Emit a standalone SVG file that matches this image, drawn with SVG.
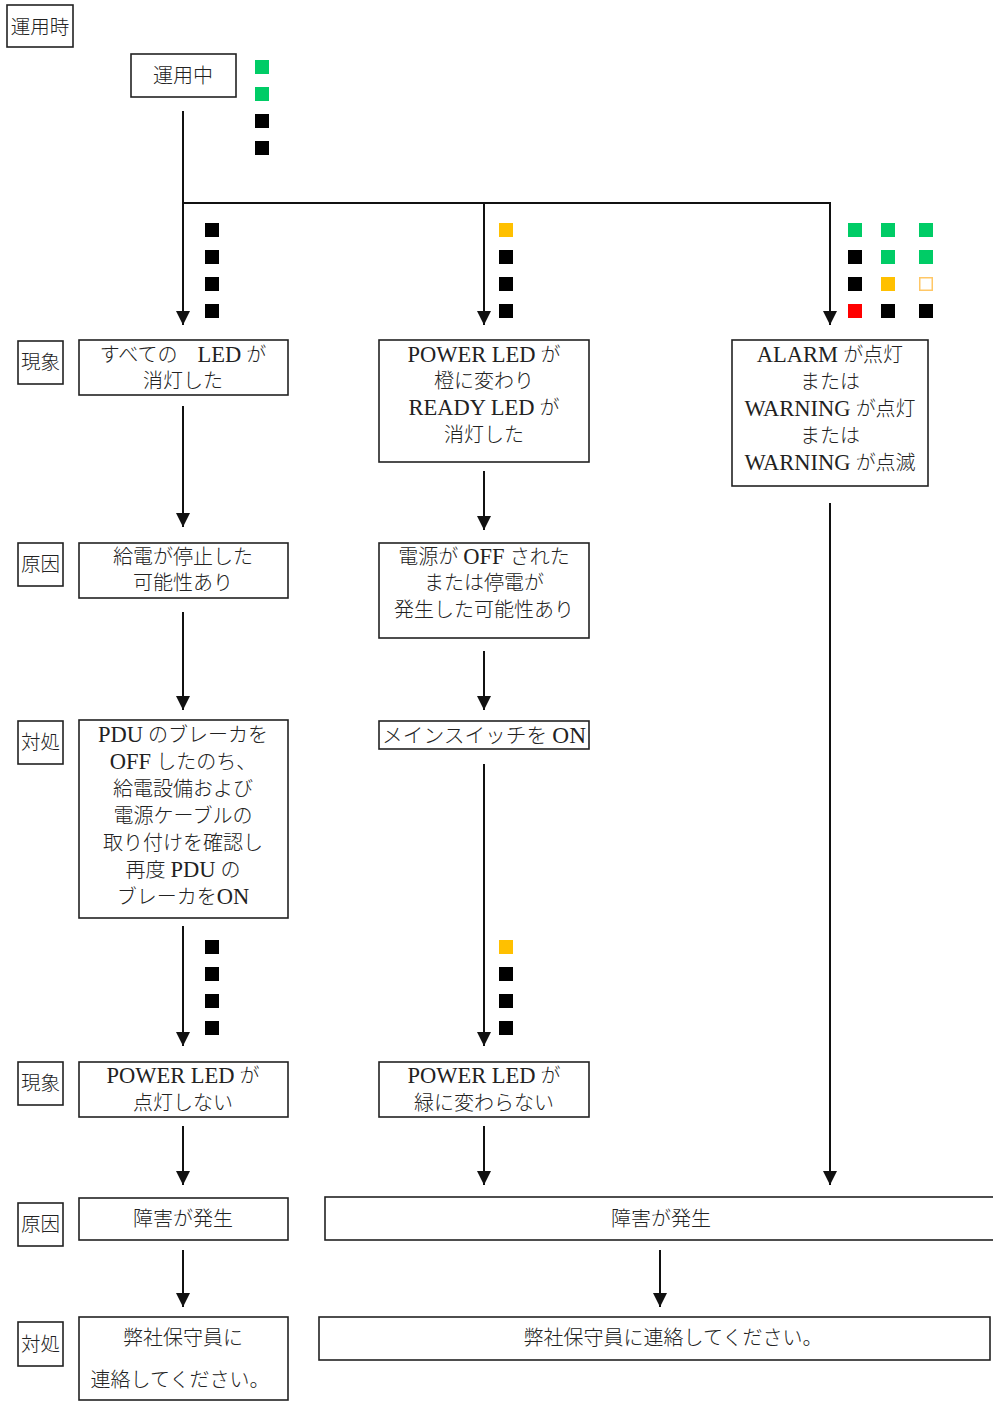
<svg xmlns="http://www.w3.org/2000/svg" width="993" height="1405" viewBox="0 0 993 1405">
<style>
text{font-family:"Liberation Serif","Noto Sans CJK JP",serif;font-size:20px;fill:#222;text-anchor:middle;font-weight:300}
.L{font-size:22.5px}
.lab{font-size:19.5px}
.box{fill:#fff;stroke:#222;stroke-width:1.6}
.c{fill:none;stroke:#111;stroke-width:2}
.g{fill:#00CC66}.k{fill:#000}.o{fill:#FFC000}.r{fill:#FF0000}.h{fill:#fff;stroke:#FFC766;stroke-width:1.5}
</style>
<defs>
<marker id="ah" viewBox="0 0 14 14" refX="14" refY="7" markerWidth="14" markerHeight="14" markerUnits="userSpaceOnUse" orient="auto">
<path d="M0,0 L14,7 L0,14 z" fill="#111"/>
</marker>
</defs>

<g id="connectors">
<path class="c" d="M183,111 V325" marker-end="url(#ah)"/>
<path class="c" d="M183,203 H830 V325" marker-end="url(#ah)"/>
<path class="c" d="M484,203 V325" marker-end="url(#ah)"/>
<path class="c" d="M183,406 V527" marker-end="url(#ah)"/>
<path class="c" d="M183,612 V710" marker-end="url(#ah)"/>
<path class="c" d="M183,926 V1046" marker-end="url(#ah)"/>
<path class="c" d="M183,1126 V1185" marker-end="url(#ah)"/>
<path class="c" d="M183,1250 V1307" marker-end="url(#ah)"/>
<path class="c" d="M484,471 V530" marker-end="url(#ah)"/>
<path class="c" d="M484,651 V710" marker-end="url(#ah)"/>
<path class="c" d="M484,764 V1046" marker-end="url(#ah)"/>
<path class="c" d="M484,1126 V1185" marker-end="url(#ah)"/>
<path class="c" d="M830,503 V1185" marker-end="url(#ah)"/>
<path class="c" d="M660,1250 V1307" marker-end="url(#ah)"/>
</g>

<g id="leds">
<rect class="g" x="255" y="60" width="14" height="14"/>
<rect class="g" x="255" y="87" width="14" height="14"/>
<rect class="k" x="255" y="114" width="14" height="14"/>
<rect class="k" x="255" y="141" width="14" height="14"/>

<rect class="k" x="205" y="223" width="14" height="14"/>
<rect class="k" x="205" y="250" width="14" height="14"/>
<rect class="k" x="205" y="277" width="14" height="14"/>
<rect class="k" x="205" y="304" width="14" height="14"/>

<rect class="o" x="499" y="223" width="14" height="14"/>
<rect class="k" x="499" y="250" width="14" height="14"/>
<rect class="k" x="499" y="277" width="14" height="14"/>
<rect class="k" x="499" y="304" width="14" height="14"/>

<rect class="g" x="848" y="223" width="14" height="14"/>
<rect class="k" x="848" y="250" width="14" height="14"/>
<rect class="k" x="848" y="277" width="14" height="14"/>
<rect class="r" x="848" y="304" width="14" height="14"/>
<rect class="g" x="881" y="223" width="14" height="14"/>
<rect class="g" x="881" y="250" width="14" height="14"/>
<rect class="o" x="881" y="277" width="14" height="14"/>
<rect class="k" x="881" y="304" width="14" height="14"/>
<rect class="g" x="919" y="223" width="14" height="14"/>
<rect class="g" x="919" y="250" width="14" height="14"/>
<rect class="h" x="919.75" y="277.75" width="12.5" height="12.5"/>
<rect class="k" x="919" y="304" width="14" height="14"/>

<rect class="k" x="205" y="940" width="14" height="14"/>
<rect class="k" x="205" y="967" width="14" height="14"/>
<rect class="k" x="205" y="994" width="14" height="14"/>
<rect class="k" x="205" y="1021" width="14" height="14"/>

<rect class="o" x="499" y="940" width="14" height="14"/>
<rect class="k" x="499" y="967" width="14" height="14"/>
<rect class="k" x="499" y="994" width="14" height="14"/>
<rect class="k" x="499" y="1021" width="14" height="14"/>
</g>

<g id="label-unyouji"><rect class="box" x="7" y="5" width="66" height="42"/><text class="lab" x="40" y="34">運用時</text></g>
<g id="label-genshou1"><rect class="box" x="18" y="341" width="45" height="43"/><text class="lab" x="40.5" y="369">現象</text></g>
<g id="label-genin1"><rect class="box" x="18" y="543" width="45" height="43"/><text class="lab" x="40.5" y="571">原因</text></g>
<g id="label-taisho1"><rect class="box" x="18" y="721" width="45" height="43"/><text class="lab" x="40.5" y="749">対処</text></g>
<g id="label-genshou2"><rect class="box" x="18" y="1062" width="45" height="43"/><text class="lab" x="40.5" y="1090">現象</text></g>
<g id="label-genin2"><rect class="box" x="18" y="1203" width="45" height="43"/><text class="lab" x="40.5" y="1231">原因</text></g>
<g id="label-taisho2"><rect class="box" x="18" y="1322" width="45" height="44"/><text class="lab" x="40.5" y="1351">対処</text></g>

<g id="n-unyouchu"><rect class="box" x="131" y="54" width="105" height="43"/><text x="183" y="83">運用中</text></g>

<g id="n-l1"><rect class="box" x="79" y="340" width="209" height="55"/>
<text x="183" y="362">すべての　<tspan class="L">LED</tspan> が</text><text x="183" y="388">消灯した</text></g>
<g id="n-l2"><rect class="box" x="79" y="543" width="209" height="55"/>
<text x="183" y="564">給電が停止した</text><text x="183" y="590">可能性あり</text></g>
<g id="n-l3"><rect class="box" x="79" y="720" width="209" height="198"/>
<text x="183" y="742"><tspan class="L">PDU</tspan> のブレーカを</text><text x="183" y="769"><tspan class="L">OFF</tspan> したのち、</text><text x="183" y="796">給電設備および</text><text x="183" y="823">電源ケーブルの</text><text x="183" y="850">取り付けを確認し</text><text x="183" y="877">再度 <tspan class="L">PDU</tspan> の</text><text x="183" y="904">ブレーカを<tspan class="L">ON</tspan></text></g>
<g id="n-l4"><rect class="box" x="79" y="1062" width="209" height="55"/>
<text x="183" y="1083"><tspan class="L">POWER LED</tspan> が</text><text x="183" y="1110">点灯しない</text></g>
<g id="n-l5"><rect class="box" x="79" y="1198" width="209" height="42"/>
<text x="183" y="1226">障害が発生</text></g>
<g id="n-l6"><rect class="box" x="79" y="1317" width="209" height="83"/>
<text x="183" y="1345">弊社保守員に</text><text x="180" y="1387">連絡してください。</text></g>

<g id="n-m1"><rect class="box" x="379" y="340" width="210" height="122"/>
<text x="484" y="362"><tspan class="L">POWER LED</tspan> が</text><text x="484" y="388">橙に変わり</text><text x="484" y="415"><tspan class="L">READY LED</tspan> が</text><text x="484" y="442">消灯した</text></g>
<g id="n-m2"><rect class="box" x="379" y="543" width="210" height="95"/>
<text x="484" y="564">電源が <tspan class="L">OFF</tspan> された</text><text x="484" y="590">または停電が</text><text x="484" y="617">発生した可能性あり</text></g>
<g id="n-m3"><rect class="box" x="379" y="721" width="210" height="28"/>
<text x="484" y="743" textLength="204" lengthAdjust="spacingAndGlyphs">メインスイッチを <tspan class="L">ON</tspan></text></g>
<g id="n-m4"><rect class="box" x="379" y="1062" width="210" height="55"/>
<text x="484" y="1083"><tspan class="L">POWER LED</tspan> が</text><text x="484" y="1110">緑に変わらない</text></g>

<g id="n-r1"><rect class="box" x="732" y="340" width="196" height="146"/>
<text x="830" y="362"><tspan class="L">ALARM</tspan> が点灯</text><text x="830" y="389">または</text><text x="830" y="416"><tspan class="L">WARNING</tspan> が点灯</text><text x="830" y="443">または</text><text x="830" y="470"><tspan class="L">WARNING</tspan> が点滅</text></g>

<g id="n-wide1"><rect class="box" x="325" y="1197" width="680" height="43"/>
<text x="661" y="1226">障害が発生</text></g>
<g id="n-wide2"><rect class="box" x="319" y="1317" width="671" height="43"/>
<text x="673" y="1345">弊社保守員に連絡してください。</text></g>
</svg>
